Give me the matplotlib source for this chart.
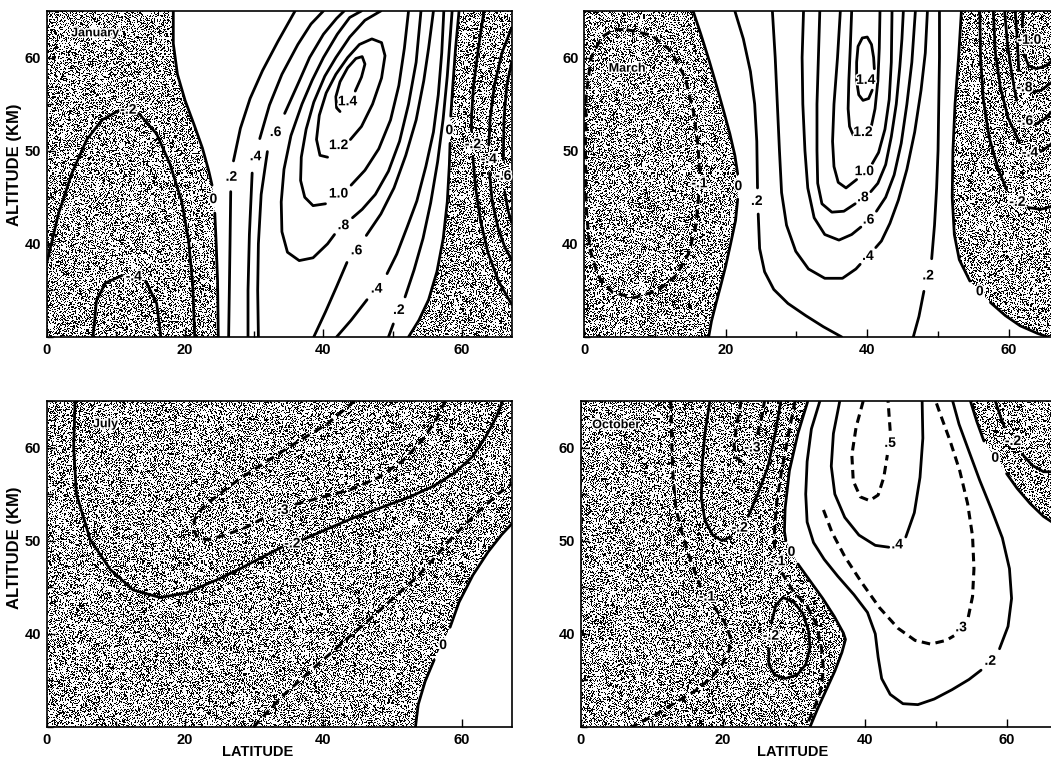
import numpy as np
import matplotlib
matplotlib.use("Agg")
import matplotlib.pyplot as plt
import matplotlib.patheffects as pe
from matplotlib.patches import Polygon
from matplotlib.ticker import MultipleLocator

plt.rcParams["font.family"] = ["Liberation Sans", "DejaVu Sans"]

LAT_MAX = 67.2
ALT_LIM = (30, 65)

# ----------------------------------------------------------
# Contour lines, (latitude, altitude km).
# None = break in the line where the label sits.
# ----------------------------------------------------------

# --- January ---
jan_m02 = [(0, 37.9), (1.7, 43.2), (3.6, 47.5), (5.8, 51.2), (8.0, 53.3), (10.4, 54.3), None,
           (13.3, 54.0), (15.9, 51.8), (17.8, 48.6), (19.5, 44.6), (20.5, 40.4), (21.1, 35.7), (21.4, 30)]
jan_m04 = [(6.7, 30), (7.2, 33.9), (8.5, 35.8), (10.9, 36.6), None, (14.3, 36.0), (15.9, 33.6), (16.5, 30)]
jan_0L = [(18.3, 65), (18.3, 61.5), (18.9, 58.2), (20.0, 55.4), (21.3, 52.8), (22.5, 50.3), (23.4, 47.9),
          (23.9, 46.3), None, (24.3, 43.3), (24.5, 40), (24.7, 36), (24.8, 30)]
jan_02L = [(26.3, 30), (26.4, 35), (26.5, 40), (26.6, 45.6), None, (27.0, 48.9), (28.0, 52.4), (29.4, 55.6),
           (31.2, 58.6), (33.4, 61.7), (35.9, 65)]
jan_04L = [(29.1, 30), (29.1, 35), (29.3, 41), (29.7, 47.6), None, (30.8, 51.3), (32.2, 54.9), (34.0, 58.2),
           (36.3, 61.4), (38.2, 63.6), (40.0, 65)]
jan_06L = [(30.6, 30), (30.5, 35), (30.6, 40), (31.0, 45.3), (31.9, 49.9), None, (34.4, 54.0), (36.4, 57.3),
           (38.0, 60.0), (40.0, 62.5), (41.9, 64.2), (43.0, 65)]
jan_08 = [(45.5, 65), (43.8, 64.3), (42.0, 62.5), (40.0, 60.0), (38.4, 57.6), (36.9, 55.0), (35.3, 51.6),
          (34.3, 48.0), (33.9, 44.5), (34.0, 41.3), (34.8, 39.1), (36.5, 38.2), (38.5, 38.5), (40.6, 40.0),
          (41.6, 41.0), None, (44.2, 42.8), (45.6, 43.7), (47.5, 45.3), (49.4, 47.8), (51.0, 51.0),
          (52.3, 55.0), (53.4, 59.5), (54.1, 65)]
jan_10 = [(48.3, 65), (46.0, 64.0), (43.8, 62.2), (41.8, 60.0), (40.2, 58.0), (38.6, 55.2), (37.5, 52.3),
          (36.8, 49.3), (36.7, 46.8), (37.3, 45.0), (38.5, 44.1), (40.3, 44.3), None, (44.0, 46.3),
          (46.0, 47.9), (48.0, 50.2), (49.7, 53.3), (50.9, 57.0), (51.7, 61.0), (52.3, 65)]
jan_12 = [(43.9, 51.2), (45.5, 52.6), (47.1, 55.0), (48.4, 57.8), (48.9, 60.2), (48.4, 61.6), (47.0, 62.0),
          (45.2, 61.4), (43.5, 60.0), (41.8, 58.2), (40.4, 56.2), (39.4, 53.8), (39.0, 51.2), (39.5, 49.5),
          (40.6, 49.3)]
jan_14 = [(44.6, 56.4), (45.5, 57.9), (46.0, 59.3), (45.6, 60.1), (44.7, 59.9), (43.5, 58.9), (42.4, 57.4),
          (41.8, 55.8), (41.9, 54.6), (42.4, 54.2)]
jan_06R = [(38.6, 30), (40.3, 32.7), (41.9, 35.4), (43.4, 38.0), None, (46.2, 40.9), (48.3, 43.2), (50.2, 46.0),
           (51.9, 49.5), (53.4, 53.3), (54.5, 57.5), (55.2, 61.0), (55.9, 65)]
jan_04R = [(41.9, 30), (44.0, 31.8), (46.3, 34.0), None, (49.2, 36.8), (50.6, 38.9), (52.1, 41.8), (53.5, 44.6),
           (54.8, 48.3), (55.9, 52.0), (56.6, 56.0), (57.1, 60.5), (57.4, 65)]
jan_02R = [(49.4, 30), (50.1, 31.4), None, (51.8, 34.3), (53.1, 37.2), (54.4, 40.6), (55.5, 44.4), (56.5, 48.8),
           (57.3, 53.4), (57.9, 58.0), (58.3, 62.0), (58.6, 65)]
jan_0R = [(52.3, 30), (53.8, 31.8), (55.2, 34.0), (56.4, 37.0), (57.3, 40.5), (57.9, 44.5), (58.2, 48.5),
          (58.3, 50.8), None, (58.4, 53.7), (58.7, 57.0), (59.1, 61.0), (59.6, 65)]
jan_m02R = [(63.2, 65), (62.4, 61), (61.7, 57), (61.4, 53.6), (61.4, 52.1), None, (61.6, 49.3), (62.0, 46.0),
            (62.7, 42.5), (63.8, 39.0), (65.3, 36.0), (67.2, 33.5)]
jan_m04R = [(67.2, 63.2), (65.8, 60.5), (64.7, 57.0), (64.1, 53.5), (63.9, 50.6), None, (64.0, 47.6),
            (64.4, 44.5), (65.3, 41.5), (66.3, 39.5), (67.2, 38.3)]
jan_m06R = [(67.2, 59.5), (66.5, 57.0), (66.1, 53.5), (66.0, 49.0), None, (66.2, 45.6), (66.7, 43.5), (67.2, 42.3)]
jan_labels = [("-.2", 11.8, 54.4), ("-.4", 12.6, 36.5), ("0", 24.1, 44.8), (".2", 26.7, 47.2),
              (".4", 30.2, 49.4), (".6", 33.1, 52.0), ("1.4", 43.5, 55.3), ("1.2", 42.2, 50.6),
              ("1.0", 42.2, 45.4), (".8", 42.9, 42.0), (".6", 44.8, 39.3), (".4", 47.7, 35.2),
              (".2", 50.9, 32.9), ("0", 58.2, 52.2), ("-.2", 61.6, 50.7), ("-.4", 63.9, 49.1),
              ("-.6", 66.0, 47.3)]

# --- March ---
mar_m01 = [(6.0, 63.0), (9.5, 62.4), (12.3, 60.7), (14.3, 57.8), (15.5, 54.0), (16.1, 50.5), (16.3, 47.8), None,
           (16.2, 45.2), (15.8, 42.0), (14.8, 39.0), (13.0, 36.6), (10.5, 35.0), (7.0, 34.2), (4.0, 34.8),
           (2.0, 36.5), (0.8, 39.5), (0.3, 44.0), (0.2, 50.0), (0.3, 56.0), (1.0, 60.0), (2.5, 62.2),
           (4.2, 63.0), (6.0, 63.0)]
mar_0L = [(15.4, 65), (16.5, 62.5), (17.7, 59.6), (18.7, 57.0), (19.7, 54.3), (20.6, 51.8), (21.3, 49.5),
          (21.7, 47.5), None, (21.7, 44.8), (21.4, 42.5), (20.7, 40.0), (20.0, 37.6), (19.3, 35.5),
          (18.6, 33.5), (18.0, 31.7), (17.6, 30)]
mar_02L = [(21.3, 65), (22.5, 62.0), (23.5, 58.5), (24.1, 55.0), (24.4, 51.0), (24.5, 46.0), None, (24.6, 43.2),
           (24.8, 39.5), (25.5, 37.0), (26.8, 35.1), (28.8, 33.6), (31.3, 32.3), (33.8, 31.1), (36.4, 30)]
mar_04 = [(26.6, 65), (27.0, 60), (27.3, 55), (27.6, 50), (27.9, 45.5), (28.6, 42.0), (29.9, 39.2), (31.7, 37.3),
          (34.0, 36.3), (36.5, 36.3), (38.4, 37.3), (39.0, 37.8), None, (41.2, 39.6), (42.0, 40.3),
          (43.2, 42.2), (44.4, 44.7), (45.6, 48.0), (46.7, 52.0), (47.6, 56.5), (48.2, 60.5), (48.5, 65)]
mar_06 = [(31.0, 65), (30.8, 60), (30.9, 55), (31.2, 50), (31.6, 46), (32.5, 42.8), (34.0, 41.0), (36.0, 40.4),
          (37.8, 41.0), (39.1, 41.8), None, (41.3, 43.5), (42.6, 45.0), (43.8, 47.4), (44.8, 50.8),
          (45.6, 55.0), (46.3, 59.5), (46.8, 65)]
mar_08 = [(33.3, 65), (33.1, 60), (32.9, 55), (32.9, 50), (33.0, 46.5), (33.6, 44.3), (35.0, 43.4), (36.7, 43.5),
          (38.3, 44.3), None, (40.5, 45.6), (41.5, 46.5), (42.6, 48.5), (43.4, 51.5), (44.1, 55.0),
          (44.6, 59.0), (44.9, 62.0), (45.1, 65)]
mar_10 = [(36.2, 65), (35.8, 60), (35.3, 55), (35.1, 51), (35.3, 48.3), (35.9, 46.6), (37.0, 46.0), (38.5, 46.9),
          None, (40.7, 48.6), (41.6, 49.8), (42.5, 52.3), (43.1, 55.5), (43.4, 59.5), (43.5, 65)]
mar_12 = [(37.8, 65), (37.6, 61.0), (37.4, 57.5), (37.3, 54.5), (37.5, 52.6), (38.0, 51.7), None, (40.6, 52.7),
          (41.1, 54.5), (41.5, 57.5), (41.7, 61.0), (41.8, 65)]
mar_14 = [(40.7, 56.5), (40.2, 55.6), (39.4, 55.4), (38.8, 56.0), (38.5, 57.5), (38.5, 59.5), (38.7, 61.2),
          (39.3, 62.1), (40.0, 62.2), (40.6, 61.4), (40.9, 60.0), (41.0, 58.8)]
mar_02R = [(46.5, 30), (47.3, 32.2), (48.0, 34.9), None, (49.1, 38.4), (49.5, 42.0), (49.8, 46.0), (50.0, 50.0),
           (50.1, 55.0), (50.2, 60.0), (50.2, 65)]
mar_0R = [(53.3, 65), (52.9, 60), (52.4, 55), (52.1, 50), (52.0, 45), (52.3, 41), (53.0, 38.3), (54.5, 36.0), None,
          (57.4, 33.7), (59.5, 32.3), (61.6, 31.2), (64.0, 30.4), (65.5, 30)]
mar_m02 = [(55.9, 65), (56.0, 60), (56.4, 55.5), (57.2, 51.5), (58.5, 48.0), (59.7, 45.8), None, (62.7, 43.9),
           (64.5, 43.7), (66.0, 44.0), (67.2, 44.4)]
mar_m04 = [(57.8, 65), (58.1, 60.5), (58.8, 56.8), (59.9, 53.5), (61.5, 50.9), None, (64.5, 49.9), (65.8, 50.6),
           (67.2, 51.6)]
mar_m06 = [(59.4, 65), (59.8, 61.5), (60.4, 58.3), (61.1, 55.4), None, (63.7, 52.8), (65.0, 53.4), (66.2, 54.3),
           (67.2, 55.2)]
mar_m08 = [(60.9, 65), (61.2, 61.8), (61.4, 58.6), None, (63.4, 56.3), (64.6, 56.5), (65.8, 57.2), (67.2, 58.0)]
mar_m10 = [(62.0, 65), (61.9, 63.3), None, (62.2, 60.3), (62.8, 59.1), (63.9, 58.8), (65.2, 59.1), (66.3, 59.8),
           (67.2, 60.6)]
mar_labels = [("-.1", 16.3, 46.5), ("0", 21.8, 46.2), (".2", 24.4, 44.6), (".4", 40.1, 38.7),
              (".6", 40.2, 42.6), (".8", 39.4, 45.0), ("1.0", 39.6, 47.8), ("1.2", 39.4, 52.0),
              ("1.4", 39.8, 57.6), (".2", 48.6, 36.6), ("0", 55.9, 34.9), ("-.2", 61.2, 44.5),
              ("-.4", 63.0, 49.8), ("-.6", 62.3, 53.2), ("-.8", 62.2, 56.8), ("-1.0", 62.9, 61.9)]

# --- July ---
jul_m02 = [(4.1, 65), (3.9, 60), (4.3, 55), (6.3, 50.1), (9.2, 46.9), (12.5, 44.7), (16.4, 43.9), (20.2, 44.4),
           (24.6, 45.8), (28.0, 47.0), (31.3, 48.3), (34.0, 49.3), None, (37.0, 50.1), (41.0, 51.4),
           (44.5, 52.5), (48.5, 53.6), (52.5, 54.7), (56.0, 55.9), (59.0, 57.3), (61.5, 59.0), (63.5, 61.2),
           (65.0, 63.3), (65.9, 65)]
jul_m03 = [(44.5, 65), (40.5, 62.5), (36.0, 60.5), (32.0, 58.6), (28.0, 56.7), (24.6, 54.8), (22.5, 53.5),
           (21.4, 52.3), (21.2, 51.1), (21.9, 50.3), (23.2, 50.1), (25.8, 50.6), (28.7, 51.4), (31.8, 52.6), None,
           (35.9, 53.9), (40.0, 54.7), (44.0, 55.5), (48.0, 56.8), (51.5, 58.6), (54.3, 60.8), (56.3, 63.0),
           (57.6, 65)]
jul_m01 = [(29.9, 30), (32.0, 31.7), (34.2, 33.4), (36.6, 35.0), (39.0, 36.6), (41.5, 38.2), (43.9, 39.8),
           (46.3, 41.3), (48.7, 42.9), (51.1, 44.5), (53.5, 46.1), (56.0, 48.1), (58.3, 50.1), (60.7, 51.9),
           (63.1, 53.6), (65.2, 55.0), (67.2, 56.1)]
jul_0 = [(53.3, 30), (53.7, 32.4), (54.7, 34.9), (56.0, 37.2), None, (58.3, 40.7), (59.6, 43.4), (61.6, 46.3),
         (63.8, 48.8), (65.7, 50.6), (67.2, 51.8)]
jul_labels = [("-.2", 35.5, 49.7), ("-.3", 33.8, 53.3), ("0", 57.3, 38.8)]

# --- October ---
oct_m01L = [(12.7, 65), (12.8, 61), (13.0, 57), (13.4, 53.5), (14.4, 50.5), (15.6, 47.6), (16.9, 45.0), None,
            (18.8, 42.9), (20.3, 41.2), (21.1, 39.6), (20.9, 38.2), (20.0, 36.8), (18.3, 35.2), (16.0, 33.8),
            (13.3, 32.6), (10.5, 31.3), (7.2, 30)]
oct_m02U = [(18.2, 65), (17.5, 61.5), (17.1, 58), (17.0, 54.5), (17.5, 52.2), (18.6, 50.6), (19.9, 50.0),
            (21.1, 50.4), None, (23.6, 52.6), (25.0, 55.1), (26.4, 58.0), (27.4, 61.5), (28.2, 65)]
oct_m03 = [(22.6, 65), (22.0, 62.5), (21.6, 60.3), (21.8, 59.0), (22.6, 58.5), (23.3, 58.8), None, (24.9, 61.4),
           (25.5, 63.3), (25.9, 65)]
oct_m01R = [(30.2, 65), (29.3, 61.5), (28.3, 57.5), (27.6, 54.0), (27.3, 51.0), (27.3, 49.0), None, (28.3, 46.6),
            (30.0, 44.5), (31.9, 43.0), (33.2, 41.0), (33.9, 38.6), (34.2, 36.2), (33.8, 33.9), (32.8, 31.8),
            (31.7, 30)]
oct_m02O = [(28.5, 43.9), (30.0, 43.4), (31.3, 42.2), (32.1, 40.3), (32.3, 38.5), (31.7, 36.7), (30.5, 35.6),
            (28.8, 35.2), (27.3, 35.6), (26.5, 36.7), (26.5, 38.4), None, (26.9, 41.3), (27.5, 43.1), (28.5, 43.9)]
oct_0 = [(32.0, 65), (30.6, 61.5), (29.4, 57.5), (28.8, 53.5), (28.7, 51.0), (28.9, 50.0), None, (30.6, 47.5),
         (32.3, 45.7), (34.1, 43.8), (35.7, 41.9), (37.0, 40.1), (37.3, 39.4), (36.8, 38.0), (35.8, 36.0),
         (34.6, 34.0), (33.4, 32.0), (32.3, 30)]
oct_02 = [(33.7, 65), (32.5, 62.0), (31.9, 58.5), (31.7, 55.0), (31.9, 52.0), (32.8, 49.8), (34.3, 48.0),
          (36.2, 46.2), (38.5, 44.2), (40.4, 42.3), (41.5, 40.0), (41.9, 37.5), (42.4, 35.2), (43.6, 33.5),
          (45.4, 32.5), (47.5, 32.4), (49.8, 33.0), (52.3, 34.0), (54.7, 35.1), (56.4, 36.1), None,
          (59.0, 38.4), (60.2, 40.8), (60.7, 43.8), (60.4, 47.0), (59.4, 50.3), (57.9, 53.3), (56.2, 56.5),
          (54.6, 59.8), (53.3, 62.5), (52.4, 65)]
oct_03 = [(34.2, 53.3), (35.4, 50.9), (37.2, 48.3), (39.5, 45.6), (42.1, 42.8), (44.7, 40.6), (47.1, 39.3),
          (49.3, 38.9), (51.5, 39.3), (52.6, 39.8), None, (54.6, 41.8), (55.2, 44.0), (55.4, 47.0), (55.2, 50.5),
          (54.5, 54.0), (53.4, 57.5), (52.0, 60.8), (50.7, 63.5), (50.0, 65)]
oct_04 = [(36.5, 65), (35.6, 61.5), (35.3, 58.0), (35.8, 55.0), (37.2, 52.5), (39.2, 50.6), (41.5, 49.5),
          (43.4, 49.3), None, (45.8, 50.4), (47.0, 53.0), (47.8, 56.8), (48.2, 61.0), (48.1, 65)]
oct_05 = [(39.8, 65), (38.8, 62.2), (38.2, 59.2), (38.4, 56.4), (39.4, 54.7), (40.7, 54.3), (41.9, 54.9),
          (42.7, 56.8), (43.2, 59.2), None, (43.6, 61.8), (43.3, 65)]
oct_0R = [(54.9, 65), (55.8, 62.8), (56.8, 60.7), None, (60.0, 57.2), (61.5, 55.6), (63.3, 54.0), (65.2, 52.6),
          (67.2, 51.6)]
oct_m02R = [(58.4, 65), (59.1, 63.4), (59.7, 62.2), None, (62.2, 59.3), (63.6, 58.1), (65.2, 57.4), (67.2, 57.4)]
oct_labels = [("-.1", 17.8, 44.0), ("-.2", 22.4, 51.4), ("-.3", 24.2, 60.0), ("-.1", 27.7, 47.8),
              ("-.2", 26.8, 39.8), ("0", 29.7, 48.8), (".2", 57.7, 37.1), (".3", 53.6, 40.7),
              (".4", 44.6, 49.6), (".5", 43.6, 60.5), ("0", 58.4, 58.9), ("-.2", 60.9, 60.7)]


def as_xy(line):
    xs = np.array([np.nan if p is None else p[0] for p in line])
    ys = np.array([np.nan if p is None else p[1] for p in line])
    return xs, ys


def ring(*parts):
    return [p for part in parts for p in part if p is not None]


# negative (stippled) regions, closed on the frame
jan_shade = [ring([(0, 30), (0, 65)], jan_0L), ring(jan_0R, [(LAT_MAX, 65), (LAT_MAX, 30)])]
mar_shade = [ring([(0, 30), (0, 65)], mar_0L), ring(mar_0R, [(LAT_MAX, 30), (LAT_MAX, 65)])]
jul_shade = [ring([(0, 30), (0, 65), (LAT_MAX, 65)], jul_0[::-1])]
oct_shade = [ring([(0, 30), (0, 65)], oct_0), ring(oct_0R, [(LAT_MAX, 65)])]

grain = np.random.default_rng(11)   # paper stipple texture only, not data


def stipple(px_w, px_h):
    return (grain.random((px_h, px_w)) > 0.34).astype(float)


def draw_panel(ax, px_w, px_h, solid, dashed, labels, shaded, month, month_at):
    tex = stipple(px_w, px_h)
    for region in shaded:
        im = ax.imshow(tex, cmap="gray", vmin=0, vmax=1, extent=(0, LAT_MAX, ALT_LIM[0], ALT_LIM[1]),
                       origin="lower", aspect="auto", interpolation="nearest", zorder=1)
        im.set_clip_path(Polygon(region, closed=True, transform=ax.transData))
    for line in solid:
        x, y = as_xy(line)
        ax.plot(x, y, color="black", lw=2.0, solid_capstyle="round", zorder=3)
    for line in dashed:
        x, y = as_xy(line)
        ax.plot(x, y, color="black", lw=2.2, ls=(0, (2.8, 1.8)), zorder=3)
    halo = [pe.withStroke(linewidth=2.2, foreground="white")]
    for text, x, y in labels:
        ax.text(x, y, text, ha="center", va="center", fontsize=10, fontweight="bold",
                zorder=4, path_effects=halo)
    ax.text(month_at[0], month_at[1], month, ha="center", va="center", fontsize=9,
            fontweight="bold", zorder=4, path_effects=halo)

    ax.set_xlim(0, LAT_MAX)
    ax.set_ylim(*ALT_LIM)
    ax.set_xticks([0, 20, 40, 60])
    ax.set_yticks([40, 50, 60])
    ax.xaxis.set_minor_locator(MultipleLocator(10))
    ax.yaxis.set_minor_locator(MultipleLocator(5))
    ax.tick_params(which="both", direction="in", width=1.0, labelsize=10.5, pad=4)
    ax.tick_params(which="major", length=6)
    ax.tick_params(which="minor", length=4)
    for lbl in ax.get_xticklabels() + ax.get_yticklabels():
        lbl.set_fontweight("bold")
    for sp in ax.spines.values():
        sp.set_linewidth(1.2)


fig = plt.figure(figsize=(10.51, 7.61), dpi=100)
ax_jan = fig.add_axes([0.0444, 0.5572, 0.4424, 0.4284])
ax_mar = fig.add_axes([0.5557, 0.5572, 0.4527, 0.4284])
ax_jul = fig.add_axes([0.0444, 0.0447, 0.4424, 0.4284])
ax_oct = fig.add_axes([0.5525, 0.0447, 0.4539, 0.4284])

draw_panel(ax_jan, 465, 326,
           [jan_m02, jan_m04, jan_0L, jan_02L, jan_04L, jan_06L, jan_08, jan_10, jan_12, jan_14,
            jan_06R, jan_04R, jan_02R, jan_0R, jan_m02R, jan_m04R, jan_m06R],
           [], jan_labels, jan_shade, "January", (7.0, 62.6))
draw_panel(ax_mar, 476, 326,
           [mar_0L, mar_02L, mar_04, mar_06, mar_08, mar_10, mar_12, mar_14, mar_02R, mar_0R,
            mar_m02, mar_m04, mar_m06, mar_m08, mar_m10],
           [mar_m01], mar_labels, mar_shade, "March", (6.1, 58.8))
draw_panel(ax_jul, 465, 326, [jul_m02, jul_0], [jul_m03, jul_m01], jul_labels, jul_shade,
           "July", (8.5, 62.5))
draw_panel(ax_oct, 477, 326,
           [oct_m02U, oct_m02O, oct_0, oct_02, oct_04, oct_0R, oct_m02R],
           [oct_m01L, oct_m03, oct_m01R, oct_03, oct_05], oct_labels, oct_shade,
           "October", (5.0, 62.4))

for y in (1 - 165 / 761, 1 - 548 / 761):
    fig.text(15 / 1051, y, "ALTITUDE (KM)", rotation=90, ha="center", va="center",
             fontsize=12, fontweight="bold")
for x in (257.5 / 1051, 793 / 1051):
    fig.text(x, 1 - 751.7 / 761, "LATITUDE", ha="center", va="center", fontsize=10.5, fontweight="bold")

fig.savefig("out.png", dpi=100, facecolor="white")
